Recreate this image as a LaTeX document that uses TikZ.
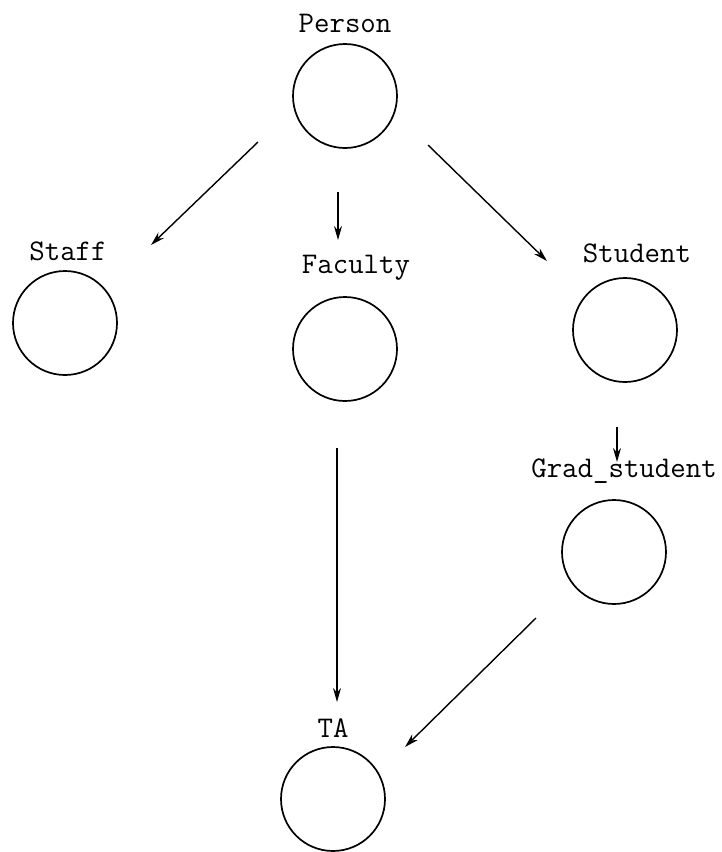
\documentclass[tikz,border=0pt]{standalone}
\usetikzlibrary{arrows.meta}
\begin{document}
\begin{tikzpicture}[x=1pt,y=-1pt,
  cls/.style={draw,circle,line width=1.7pt,minimum size=104pt,inner sep=0pt},
  lbl/.style={font=\fontsize{30}{33}\selectfont\ttfamily,inner sep=0pt,anchor=center},
  arr/.style={line width=1.4pt,-{Stealth[length=14pt,width=8pt]}}]
\useasboundingbox (0,0) rectangle (722,852);
\node[cls] (person) at (345,96) {};
\node[cls] (staff) at (65,323) {};
\node[cls] (faculty) at (345,349) {};
\node[cls] (student) at (625,330) {};
\node[cls] (grad) at (614,552) {};
\node[cls] (ta) at (333,799) {};
\node[lbl] (lperson) at (345,23) {Person};
\node[lbl] (lstaff) at (68,251) {Staff};
\node[lbl] (lfaculty) at (356,268) {Faculty};
\node[lbl] (lstudent) at (637,253) {Student};
\node[lbl] (lgrad) at (624,471) {Grad\_student};
\node[lbl] (lta) at (333,728) {TA};
\coordinate (a1) at (258,142); \coordinate (b1) at (151,245);
\coordinate (a2) at (338,192); \coordinate (b2) at (338,240);
\coordinate (a3) at (428,145); \coordinate (b3) at (547,261);
\coordinate (a4) at (617,427); \coordinate (b4) at (617,462);
\coordinate (a5) at (337,448); \coordinate (b5) at (337,702);
\coordinate (a6) at (536,618); \coordinate (b6) at (405,747);
\draw[arr] (a1) -- (b1);
\draw[arr] (a2) -- (b2);
\draw[arr] (a3) -- (b3);
\draw[arr] (a4) -- (b4);
\draw[arr] (a5) -- (b5);
\draw[arr] (a6) -- (b6);
\end{tikzpicture}
\end{document}
